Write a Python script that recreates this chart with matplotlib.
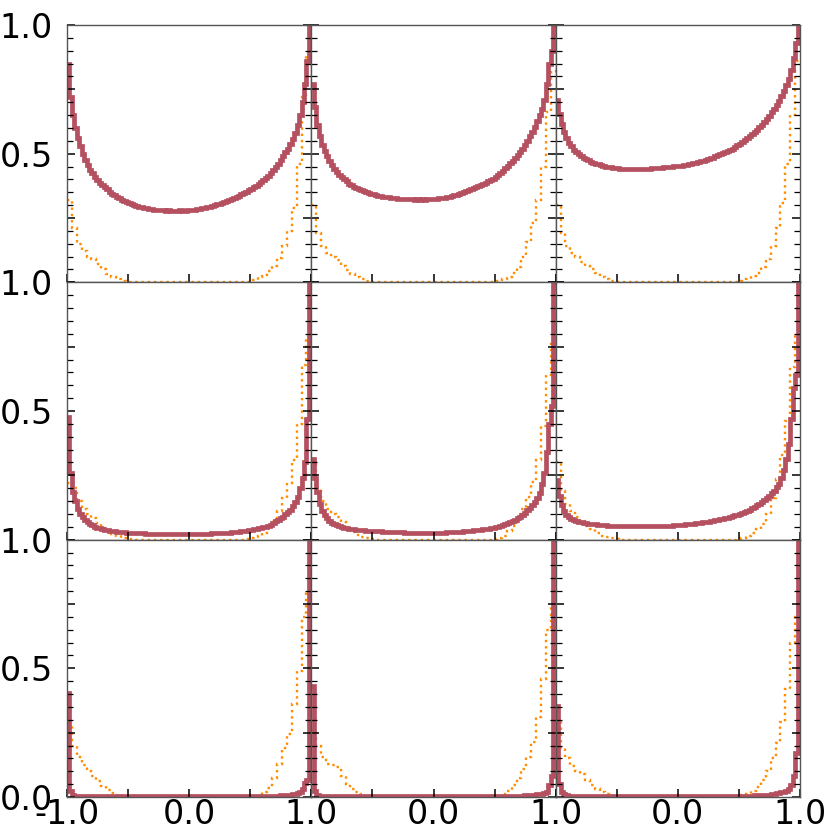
import numpy as np
import matplotlib
matplotlib.use('Agg')
import matplotlib.pyplot as plt
from matplotlib.ticker import FixedLocator, FixedFormatter, MultipleLocator

# normalised histograms, 100 bins on [-1, 1] (solid) and 50 bins (dotted)
red_r0c0 = [0.85, 0.72, 0.65, 0.60, 0.56, 0.53, 0.50, 0.475, 0.455, 0.438,
            0.423, 0.41, 0.398, 0.387, 0.378, 0.37, 0.362, 0.352, 0.345, 0.338,
            0.332, 0.326, 0.321, 0.316, 0.311, 0.307, 0.303, 0.30, 0.297, 0.294,
            0.292, 0.29, 0.287, 0.285, 0.284, 0.283, 0.282, 0.281, 0.28, 0.28,
            0.279, 0.28, 0.279, 0.278, 0.277, 0.279, 0.28, 0.279, 0.276, 0.28,
            0.282, 0.281, 0.283, 0.284, 0.286, 0.288, 0.29, 0.292, 0.294, 0.297,
            0.30, 0.303, 0.306, 0.309, 0.312, 0.316, 0.32, 0.324, 0.328, 0.332,
            0.337, 0.342, 0.347, 0.352, 0.358, 0.364, 0.37, 0.376, 0.383, 0.39,
            0.398, 0.406, 0.415, 0.425, 0.436, 0.448, 0.461, 0.475, 0.49, 0.505,
            0.52, 0.538, 0.558, 0.58, 0.61, 0.65, 0.70, 0.77, 0.86, 1.0]
red_r0c1 = [0.77, 0.68, 0.61, 0.57, 0.535, 0.51, 0.49, 0.473, 0.455, 0.44,
            0.428, 0.418, 0.41, 0.40, 0.392, 0.384, 0.377, 0.372, 0.366, 0.361,
            0.357, 0.354, 0.35, 0.347, 0.344, 0.342, 0.34, 0.337, 0.335, 0.333,
            0.331, 0.33, 0.328, 0.327, 0.326, 0.325, 0.324, 0.324, 0.323, 0.322,
            0.322, 0.322, 0.321, 0.322, 0.32, 0.322, 0.321, 0.323, 0.322, 0.323,
            0.324, 0.325, 0.326, 0.327, 0.329, 0.331, 0.333, 0.335, 0.338, 0.34,
            0.344, 0.347, 0.35, 0.353, 0.357, 0.362, 0.366, 0.37, 0.374, 0.378,
            0.382, 0.387, 0.392, 0.397, 0.403, 0.41, 0.417, 0.425, 0.434, 0.443,
            0.452, 0.462, 0.472, 0.483, 0.495, 0.507, 0.52, 0.535, 0.55, 0.567,
            0.585, 0.605, 0.627, 0.65, 0.675, 0.71, 0.77, 0.85, 0.90, 1.0]
red_r0c2 = [0.71, 0.655, 0.615, 0.585, 0.56, 0.542, 0.528, 0.516, 0.507, 0.499,
            0.492, 0.485, 0.479, 0.474, 0.469, 0.465, 0.461, 0.458, 0.455, 0.452,
            0.45, 0.448, 0.447, 0.445, 0.444, 0.443, 0.442, 0.441, 0.441, 0.44,
            0.44, 0.439, 0.44, 0.439, 0.44, 0.44, 0.441, 0.441, 0.442, 0.443,
            0.443, 0.444, 0.445, 0.446, 0.447, 0.448, 0.449, 0.45, 0.451, 0.452,
            0.453, 0.454, 0.456, 0.457, 0.459, 0.461, 0.463, 0.465, 0.468, 0.47,
            0.473, 0.476, 0.479, 0.482, 0.485, 0.489, 0.493, 0.497, 0.501, 0.505,
            0.51, 0.515, 0.52, 0.526, 0.532, 0.539, 0.545, 0.552, 0.559, 0.567,
            0.575, 0.584, 0.593, 0.603, 0.613, 0.624, 0.636, 0.648, 0.661, 0.675,
            0.69, 0.706, 0.724, 0.744, 0.766, 0.79, 0.825, 0.87, 0.93, 1.0]
red_r1c0 = [0.477, 0.26, 0.185, 0.15, 0.12, 0.10, 0.088, 0.078, 0.068, 0.061,
            0.056, 0.051, 0.047, 0.044, 0.041, 0.039, 0.037, 0.035, 0.033, 0.032,
            0.031, 0.03, 0.029, 0.028, 0.027, 0.026, 0.026, 0.025, 0.025, 0.024,
            0.024, 0.024, 0.023, 0.023, 0.023, 0.023, 0.022, 0.022, 0.022, 0.022,
            0.022, 0.022, 0.022, 0.022, 0.022, 0.022, 0.022, 0.022, 0.022, 0.022,
            0.022, 0.022, 0.022, 0.022, 0.022, 0.023, 0.023, 0.023, 0.023, 0.024,
            0.024, 0.024, 0.025, 0.025, 0.025, 0.026, 0.027, 0.028, 0.029, 0.03,
            0.031, 0.032, 0.033, 0.034, 0.036, 0.038, 0.04, 0.042, 0.044, 0.045,
            0.048, 0.051, 0.054, 0.058, 0.065, 0.071, 0.077, 0.083, 0.09, 0.098,
            0.107, 0.117, 0.13, 0.145, 0.165, 0.20, 0.24, 0.30, 0.47, 1.0]
red_r1c1 = [0.315, 0.24, 0.185, 0.14, 0.11, 0.095, 0.083, 0.074, 0.066, 0.06,
            0.056, 0.052, 0.049, 0.046, 0.044, 0.042, 0.041, 0.04, 0.039, 0.038,
            0.037, 0.036, 0.035, 0.035, 0.034, 0.033, 0.033, 0.032, 0.032, 0.031,
            0.031, 0.03, 0.03, 0.03, 0.029, 0.029, 0.028, 0.028, 0.027, 0.027,
            0.027, 0.027, 0.026, 0.026, 0.026, 0.026, 0.026, 0.026, 0.026, 0.026,
            0.026, 0.027, 0.027, 0.027, 0.027, 0.028, 0.028, 0.029, 0.029, 0.03,
            0.03, 0.031, 0.032, 0.033, 0.034, 0.035, 0.036, 0.037, 0.038, 0.039,
            0.04, 0.042, 0.043, 0.045, 0.047, 0.049, 0.051, 0.054, 0.057, 0.06,
            0.064, 0.068, 0.073, 0.078, 0.084, 0.09, 0.097, 0.105, 0.114, 0.124,
            0.135, 0.147, 0.16, 0.18, 0.215, 0.26, 0.34, 0.45, 0.52, 1.0]
red_r1c2 = [0.23, 0.17, 0.135, 0.11, 0.097, 0.088, 0.082, 0.077, 0.073, 0.07,
            0.068, 0.066, 0.064, 0.062, 0.061, 0.06, 0.059, 0.058, 0.057, 0.056,
            0.056, 0.055, 0.055, 0.054, 0.054, 0.053, 0.053, 0.053, 0.053, 0.052,
            0.052, 0.052, 0.052, 0.052, 0.052, 0.052, 0.052, 0.052, 0.052, 0.053,
            0.053, 0.053, 0.054, 0.054, 0.054, 0.055, 0.055, 0.055, 0.056, 0.056,
            0.057, 0.058, 0.058, 0.059, 0.06, 0.061, 0.062, 0.063, 0.064, 0.066,
            0.067, 0.068, 0.07, 0.071, 0.073, 0.075, 0.077, 0.079, 0.081, 0.083,
            0.086, 0.088, 0.091, 0.094, 0.097, 0.10, 0.104, 0.108, 0.112, 0.117,
            0.122, 0.127, 0.133, 0.139, 0.146, 0.153, 0.161, 0.17, 0.18, 0.19,
            0.203, 0.217, 0.24, 0.27, 0.315, 0.37, 0.47, 0.59, 0.64, 1.0]
red_r2c0 = [0.406, 0.025, 0.008, 0.005, 0.004, 0.004, 0.004, 0.004, 0.004, 0.004,
            0.004, 0.004, 0.004, 0.004, 0.004, 0.004, 0.004, 0.004, 0.004, 0.004,
            0.004, 0.004, 0.004, 0.004, 0.004, 0.004, 0.004, 0.004, 0.004, 0.004,
            0.004, 0.004, 0.004, 0.004, 0.004, 0.004, 0.004, 0.004, 0.004, 0.004,
            0.004, 0.004, 0.004, 0.004, 0.004, 0.004, 0.004, 0.004, 0.004, 0.004,
            0.004, 0.004, 0.004, 0.004, 0.004, 0.004, 0.004, 0.004, 0.004, 0.004,
            0.004, 0.004, 0.004, 0.004, 0.004, 0.004, 0.004, 0.004, 0.004, 0.004,
            0.004, 0.004, 0.004, 0.004, 0.004, 0.004, 0.004, 0.004, 0.004, 0.004,
            0.004, 0.004, 0.004, 0.005, 0.005, 0.005, 0.005, 0.006, 0.006, 0.007,
            0.008, 0.009, 0.01, 0.012, 0.015, 0.02, 0.03, 0.055, 0.065, 1.0]
red_r2c1 = [0.43, 0.023, 0.008, 0.005, 0.004, 0.004, 0.004, 0.004, 0.004, 0.004,
            0.004, 0.004, 0.004, 0.004, 0.004, 0.004, 0.004, 0.004, 0.004, 0.004,
            0.004, 0.004, 0.004, 0.004, 0.004, 0.004, 0.004, 0.004, 0.004, 0.004,
            0.004, 0.004, 0.004, 0.004, 0.004, 0.004, 0.004, 0.004, 0.004, 0.004,
            0.004, 0.004, 0.004, 0.004, 0.004, 0.004, 0.004, 0.004, 0.004, 0.004,
            0.004, 0.004, 0.004, 0.004, 0.004, 0.004, 0.004, 0.004, 0.004, 0.004,
            0.004, 0.004, 0.004, 0.004, 0.004, 0.004, 0.004, 0.004, 0.004, 0.004,
            0.004, 0.004, 0.004, 0.004, 0.004, 0.004, 0.004, 0.004, 0.004, 0.004,
            0.004, 0.004, 0.004, 0.004, 0.005, 0.005, 0.005, 0.006, 0.006, 0.007,
            0.008, 0.009, 0.01, 0.011, 0.012, 0.014, 0.02, 0.045, 0.08, 1.0]
red_r2c2 = [0.354, 0.05, 0.02, 0.01, 0.007, 0.005, 0.004, 0.004, 0.004, 0.004,
            0.004, 0.004, 0.004, 0.004, 0.004, 0.004, 0.004, 0.004, 0.004, 0.004,
            0.004, 0.004, 0.004, 0.004, 0.004, 0.004, 0.004, 0.004, 0.004, 0.004,
            0.004, 0.004, 0.004, 0.004, 0.004, 0.004, 0.004, 0.004, 0.004, 0.004,
            0.004, 0.004, 0.004, 0.004, 0.004, 0.004, 0.004, 0.004, 0.004, 0.004,
            0.004, 0.004, 0.004, 0.004, 0.004, 0.004, 0.004, 0.004, 0.004, 0.004,
            0.004, 0.004, 0.004, 0.004, 0.004, 0.004, 0.004, 0.004, 0.004, 0.004,
            0.004, 0.004, 0.004, 0.004, 0.004, 0.004, 0.005, 0.005, 0.005, 0.005,
            0.005, 0.006, 0.006, 0.006, 0.007, 0.007, 0.008, 0.009, 0.01, 0.012,
            0.014, 0.016, 0.018, 0.02, 0.023, 0.03, 0.045, 0.08, 0.17, 1.0]

orange_r0c0 = [0.32, 0.21, 0.15, 0.12, 0.10, 0.09, 0.07, 0.05, 0.033, 0.02,
               0.012, 0.006, 0.002, 0.0, 0.0, 0.0, 0.0, 0.0, 0.0, 0.0,
               0.0, 0.0, 0.0, 0.0, 0.0, 0.0, 0.0, 0.0, 0.0, 0.0,
               0.0, 0.0, 0.0, 0.0, 0.0, 0.0, 0.0, 0.002, 0.01, 0.02,
               0.03, 0.045, 0.065, 0.095, 0.14, 0.20, 0.29, 0.46, 0.72, 0.88]
orange_r0c1 = [0.30, 0.19, 0.14, 0.115, 0.10, 0.085, 0.065, 0.047, 0.033, 0.022,
               0.013, 0.007, 0.002, 0.0, 0.0, 0.0, 0.0, 0.0, 0.0, 0.0,
               0.0, 0.0, 0.0, 0.0, 0.0, 0.0, 0.0, 0.0, 0.0, 0.0,
               0.0, 0.0, 0.0, 0.0, 0.0, 0.0, 0.0, 0.001, 0.005, 0.012,
               0.022, 0.036, 0.06, 0.10, 0.155, 0.23, 0.32, 0.45, 0.66, 0.82]
orange_r0c2 = [0.30, 0.19, 0.14, 0.115, 0.10, 0.08, 0.065, 0.05, 0.035, 0.02,
               0.012, 0.006, 0.002, 0.0, 0.0, 0.0, 0.0, 0.0, 0.0, 0.0,
               0.0, 0.0, 0.0, 0.0, 0.0, 0.0, 0.0, 0.0, 0.0, 0.0,
               0.0, 0.0, 0.0, 0.0, 0.0, 0.0, 0.0, 0.001, 0.006, 0.013,
               0.024, 0.038, 0.058, 0.09, 0.14, 0.21, 0.31, 0.46, 0.65, 0.86]
orange_r1c0 = [0.22, 0.20, 0.15, 0.12, 0.10, 0.083, 0.066, 0.047, 0.033, 0.022,
               0.014, 0.008, 0.003, 0.0, 0.0, 0.0, 0.0, 0.0, 0.0, 0.0,
               0.0, 0.0, 0.0, 0.0, 0.0, 0.0, 0.0, 0.0, 0.0, 0.0,
               0.0, 0.0, 0.0, 0.0, 0.0, 0.0, 0.0, 0.001, 0.006, 0.014,
               0.027, 0.045, 0.072, 0.11, 0.16, 0.22, 0.31, 0.45, 0.68, 0.78]
orange_r1c1 = [0.30, 0.20, 0.15, 0.12, 0.10, 0.088, 0.068, 0.048, 0.03, 0.018,
               0.01, 0.005, 0.002, 0.0, 0.0, 0.0, 0.0, 0.0, 0.0, 0.0,
               0.0, 0.0, 0.0, 0.0, 0.0, 0.0, 0.0, 0.0, 0.0, 0.0,
               0.0, 0.0, 0.0, 0.0, 0.0, 0.0, 0.0, 0.001, 0.006, 0.016,
               0.033, 0.055, 0.085, 0.12, 0.165, 0.225, 0.31, 0.44, 0.64, 0.76]
orange_r1c2 = [0.30, 0.19, 0.14, 0.11, 0.088, 0.072, 0.055, 0.04, 0.025, 0.016,
               0.01, 0.005, 0.002, 0.0, 0.0, 0.0, 0.0, 0.0, 0.0, 0.0,
               0.0, 0.0, 0.0, 0.0, 0.0, 0.0, 0.0, 0.0, 0.0, 0.0,
               0.0, 0.0, 0.0, 0.0, 0.0, 0.0, 0.0, 0.002, 0.007, 0.016,
               0.026, 0.04, 0.06, 0.10, 0.16, 0.235, 0.33, 0.46, 0.67, 0.80]
orange_r2c0 = [0.28, 0.20, 0.155, 0.125, 0.10, 0.083, 0.062, 0.043, 0.027, 0.016,
               0.009, 0.004, 0.001, 0.0, 0.0, 0.0, 0.0, 0.0, 0.0, 0.0,
               0.0, 0.0, 0.0, 0.0, 0.0, 0.0, 0.0, 0.0, 0.0, 0.0,
               0.0, 0.0, 0.0, 0.0, 0.0, 0.0, 0.0, 0.0, 0.003, 0.01,
               0.02, 0.035, 0.075, 0.13, 0.19, 0.245, 0.36, 0.49, 0.70, 0.80]
orange_r2c1 = [0.26, 0.20, 0.155, 0.13, 0.125, 0.115, 0.08, 0.05, 0.033, 0.02,
               0.01, 0.005, 0.002, 0.0, 0.0, 0.0, 0.0, 0.0, 0.0, 0.0,
               0.0, 0.0, 0.0, 0.0, 0.0, 0.0, 0.0, 0.0, 0.0, 0.0,
               0.0, 0.0, 0.0, 0.0, 0.0, 0.0, 0.0, 0.0, 0.003, 0.01,
               0.022, 0.045, 0.075, 0.11, 0.155, 0.215, 0.31, 0.46, 0.65, 0.75]
orange_r2c2 = [0.30, 0.19, 0.15, 0.12, 0.10, 0.09, 0.065, 0.045, 0.03, 0.018,
               0.01, 0.005, 0.002, 0.0, 0.0, 0.0, 0.0, 0.0, 0.0, 0.0,
               0.0, 0.0, 0.0, 0.0, 0.0, 0.0, 0.0, 0.0, 0.0, 0.0,
               0.0, 0.0, 0.0, 0.0, 0.0, 0.0, 0.0, 0.002, 0.006, 0.013,
               0.022, 0.04, 0.065, 0.10, 0.15, 0.21, 0.29, 0.42, 0.60, 0.70]

red_grid = [[red_r0c0, red_r0c1, red_r0c2],
            [red_r1c0, red_r1c1, red_r1c2],
            [red_r2c0, red_r2c1, red_r2c2]]
orange_grid = [[orange_r0c0, orange_r0c1, orange_r0c2],
               [orange_r1c0, orange_r1c1, orange_r1c2],
               [orange_r2c0, orange_r2c1, orange_r2c2]]

RED_C = '#b4505f'
ORANGE_C = 'darkorange'
SPINE_C = '#555555'
FS = 24

fig, axes = plt.subplots(3, 3, figsize=(8.3, 8.3), dpi=100)
fig.subplots_adjust(left=67/830, right=800/830, top=1 - 25/830,
                    bottom=1 - 797/830, wspace=0, hspace=0)

for r in range(3):
    for c in range(3):
        ax = axes[r][c]
        red = np.array(red_grid[r][c])
        org = np.array(orange_grid[r][c])
        ax.stairs(org, np.linspace(-1, 1, len(org) + 1), baseline=None,
                  color=ORANGE_C, lw=1.7, ls=':')
        ax.stairs(red, np.linspace(-1, 1, len(red) + 1), baseline=None,
                  color=RED_C, lw=3.4)

        ax.set_xlim(-1, 1)
        ax.set_ylim(0, 1)

        ax.xaxis.set_major_locator(FixedLocator([-1, -0.5, 0, 0.5, 1]))
        ax.yaxis.set_major_locator(FixedLocator([0, 0.25, 0.5, 0.75, 1]))
        ax.yaxis.set_minor_locator(MultipleLocator(0.05))
        ax.tick_params(axis='both', which='both', direction='in',
                       labelsize=FS, color='black')
        ax.tick_params(axis='y', which='both', left=True, right=True)
        ax.tick_params(axis='y', which='major', length=6, width=1.1, pad=10)
        ax.tick_params(axis='y', which='minor', length=4, width=0.9)
        ax.tick_params(axis='x', which='major', length=6, width=1.1, pad=1,
                       top=False)

        if c == 0:
            ylabs = ['0.0' if r == 2 else '', '', '0.5', '', '1.0']
            ax.yaxis.set_major_formatter(FixedFormatter(ylabs))
        else:
            ax.set_yticklabels([])
        if r == 2:
            xlabs = ['-1.0' if c == 0 else '', '', '0.0', '', '1.0']
            ax.xaxis.set_major_formatter(FixedFormatter(xlabs))
        else:
            ax.set_xticklabels([])

        for sp in ax.spines.values():
            sp.set_color(SPINE_C)
            sp.set_linewidth(1.0)

fig.savefig('out.png', dpi=100)
